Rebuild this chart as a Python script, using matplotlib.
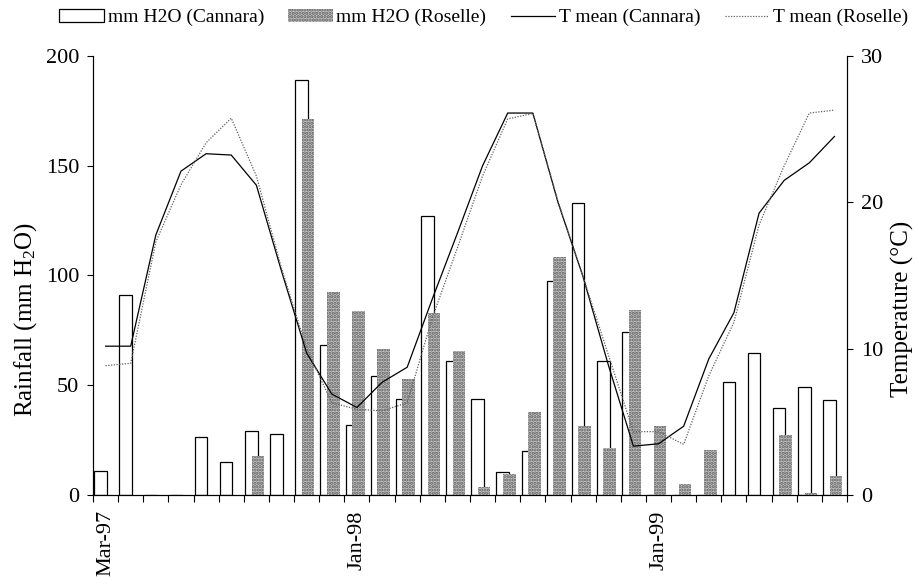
import numpy as np
import matplotlib
matplotlib.use("Agg")
import matplotlib.pyplot as plt
from matplotlib.patches import Patch
from matplotlib.lines import Line2D

plt.rcParams['font.family'] = ['Liberation Serif', 'DejaVu Serif']
plt.rcParams['mathtext.fontset'] = 'custom'
plt.rcParams['mathtext.rm'] = 'Liberation Serif'
plt.rcParams['mathtext.it'] = 'Liberation Serif:italic'
plt.rcParams['hatch.linewidth'] = 1.6

# Monthly series, March 1997 - August 1999
months = ["Mar-97", "Apr-97", "May-97", "Jun-97", "Jul-97", "Aug-97", "Sep-97",
          "Oct-97", "Nov-97", "Dec-97", "Jan-98", "Feb-98", "Mar-98", "Apr-98",
          "May-98", "Jun-98", "Jul-98", "Aug-98", "Sep-98", "Oct-98", "Nov-98",
          "Dec-98", "Jan-99", "Feb-99", "Mar-99", "Apr-99", "May-99", "Jun-99",
          "Jul-99", "Aug-99"]

rain_cannara = [11, 91, 0, 0, 26.5, 15, 29, 28, 189, 68.4, 31.9, 54.1, 43.8, 127.1,
                61, 43.8, 10.3, 19.9, 97.6, 132.9, 61, 74.2, 0, 0, 0, 51.7, 64.8,
                39.7, 49.3, 43.5]
rain_roselle = [0, 0, 0, 0, 0, 0, 17.9, 0, 171.5, 92.4, 83.6, 66.3, 52.9, 82.7,
                65.7, 3.6, 9.4, 37.9, 108.6, 31.3, 21.4, 84.1, 31.6, 5.2, 20.7, 0, 0,
                27.5, 0.9, 8.5]
temp_cannara = [10.17, 10.17, 17.77, 22.13, 23.32, 23.23, 21.17, 15.3, 9.7, 6.9,
                5.98, 7.7, 8.73, 13.4, 17.9, 22.5, 26.1, 26.1, 20.0, 14.9, 8.9,
                3.34, 3.5, 4.7, 9.3, 12.46, 19.26, 21.5, 22.7, 24.5]
temp_roselle = [8.84, 9.0, 17.3, 21.2, 24.07, 25.75, 21.8, 15.5, 10.0, 6.3, 5.86,
                5.75, 6.3, 12.1, 16.9, 21.8, 25.7, 26.07, 20.07, 14.9, 9.6, 4.33,
                4.33, 3.46, 8.15, 11.8, 18.46, 22.5, 26.1, 26.3]

shown_labels = ["Mar-97", "Jan-98", "Jan-99"]

n = len(months)
idx = np.arange(n)

stipple_face = '#c6c6c6'
stipple_ink = '#5e5e5e'

fig = plt.figure(figsize=(9.18, 5.77), dpi=100)
ax = fig.add_axes([0.1013, 0.1421, 0.8214, 0.7609])
ax2 = ax.twinx()

bar_w = 0.5
ax.bar(idx + 0.30, rain_cannara, width=bar_w, facecolor='white',
       edgecolor='black', linewidth=0.9, zorder=2)
ax.bar(idx + 0.56, rain_roselle, width=bar_w, facecolor=stipple_face,
       edgecolor=stipple_ink, linewidth=0, hatch='.....', zorder=3)

ax2.plot(idx + 0.5, temp_cannara, color='black', linewidth=0.9,
         solid_joinstyle='miter')
ax2.plot(idx + 0.5, temp_roselle, color='#606060', linewidth=0.9,
         linestyle=(0, (1, 1.2)))

ax.set_xlim(0, n)
ax.set_ylim(0, 200)
ax2.set_ylim(0, 30)

ax.set_yticks([0, 50, 100, 150, 200])
ax2.set_yticks([0, 10, 20, 30])

ax.set_xticks(np.arange(0, n + 1))
ax.set_xticklabels([])
ax.set_xticks([months.index(m) + 0.5 for m in shown_labels], minor=True)
ax.set_xticklabels(shown_labels, minor=True, rotation=90, fontsize=16)
ax.tick_params(axis='x', which='major', length=5, width=0.8, direction='out')
ax.tick_params(axis='x', which='minor', length=0, pad=11)
ax.tick_params(axis='y', length=4, width=0.8, labelsize=16, pad=6)
ax2.tick_params(axis='y', length=4, width=0.8, labelsize=16, pad=6)

for a in (ax, ax2):
    a.spines['top'].set_visible(False)
    for s in ('left', 'right', 'bottom'):
        a.spines[s].set_linewidth(0.8)

ax.set_ylabel('Rainfall (mm H$_2$O)', fontsize=18)
ax.yaxis.set_label_coords(-0.090, 0.40)
ax.yaxis.label.set_verticalalignment('center')
ax2.set_ylabel('Temperature (°C)', fontsize=18)
ax2.yaxis.set_label_coords(1.073, 0.423)
ax2.yaxis.label.set_verticalalignment('center')

handles = [
    Patch(facecolor='white', edgecolor='black', linewidth=0.9),
    Patch(facecolor=stipple_face, edgecolor=stipple_ink, linewidth=0, hatch='.....'),
    Line2D([], [], color='black', linewidth=0.9),
    Line2D([], [], color='#606060', linewidth=0.9, linestyle=(0, (1, 1.2))),
]
names = ['mm H2O (Cannara)', 'mm H2O (Roselle)', 'T mean (Cannara)', 'T mean (Roselle)']
fig.legend(handles, names, loc='upper center', bbox_to_anchor=(0.527, 1.008),
           ncol=4, frameon=False, fontsize=14, handlelength=2.27,
           handleheight=0.6, handletextpad=0.2, columnspacing=1.26,
           borderpad=0.2)

fig.savefig('out.png', dpi=100)
